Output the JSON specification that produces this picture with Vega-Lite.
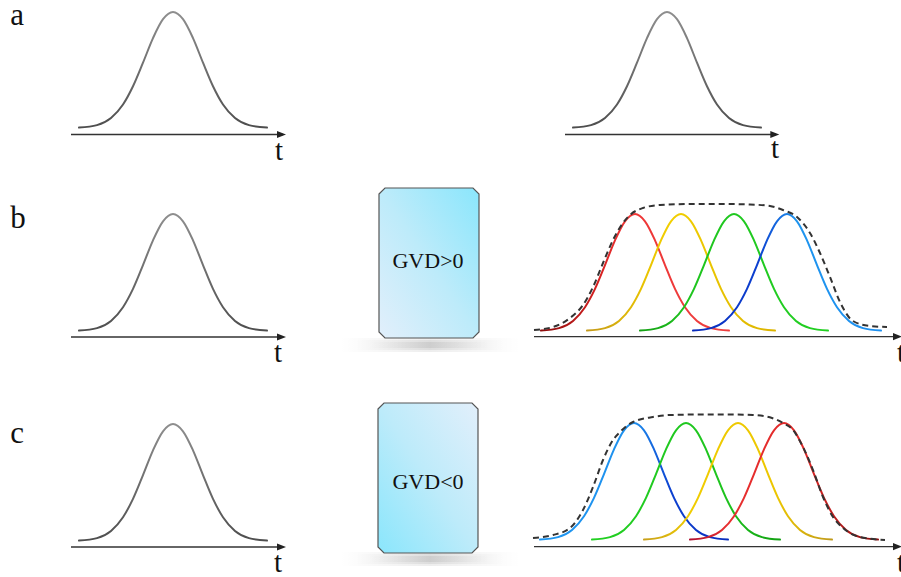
{
  "$schema": "https://vega.github.io/schema/vega-lite/v6.json",
  "width": 901,
  "height": 577,
  "autosize": {"type": "none"},
  "padding": 0,
  "background": "white",
  "config": {"view": {"stroke": null}},
  "encoding": {
    "x": {"field": "x", "type": "quantitative", "scale": {"domain": [0, 901], "nice": false, "zero": false}, "axis": null},
    "y": {"field": "y", "type": "quantitative", "scale": {"domain": [0, 577], "nice": false, "zero": false, "reverse": true}, "axis": null}
  },
  "datasets": {
    "shadows": [
      {"box": "b", "x": 340, "x2": 520, "y": 338, "y2": 352},
      {"box": "b", "x": 355, "x2": 505, "y": 340, "y2": 350},
      {"box": "b", "x": 370, "x2": 490, "y": 342, "y2": 348},
      {"box": "c", "x": 340, "x2": 520, "y": 552, "y2": 566},
      {"box": "c", "x": 355, "x2": 505, "y": 554, "y2": 564},
      {"box": "c", "x": 370, "x2": 490, "y": 556, "y2": 562}
    ],
    "boxes": [
      {"box": "b", "x": 379, "y": 194, "y2": 332},
      {"box": "b", "x": 385, "y": 188, "y2": 338},
      {"box": "b", "x": 473, "y": 188, "y2": 338},
      {"box": "b", "x": 479, "y": 194, "y2": 332},
      {"box": "c", "x": 378, "y": 409, "y2": 547},
      {"box": "c", "x": 384, "y": 403, "y2": 553},
      {"box": "c", "x": 472, "y": 403, "y2": 553},
      {"box": "c", "x": 478, "y": 409, "y2": 547}
    ],
    "gvd": [
      {"label": "GVD>0", "x": 428, "y": 268},
      {"label": "GVD<0", "x": 428, "y": 489}
    ],
    "axes": [
      {"x": 71, "x2": 283, "y": 134.5},
      {"x": 565, "x2": 776, "y": 134.5},
      {"x": 71, "x2": 283, "y": 337},
      {"x": 71, "x2": 283, "y": 547},
      {"x": 534, "x2": 899, "y": 336.7},
      {"x": 534, "x2": 899, "y": 546.7}
    ],
    "arrows": [
      {"x": 281.5, "y": 134.5},
      {"x": 774.8, "y": 134.5},
      {"x": 281.5, "y": 337},
      {"x": 281.5, "y": 547},
      {"x": 897.5, "y": 336.7},
      {"x": 897.5, "y": 546.7}
    ],
    "letters": [
      {"label": "a", "x": 17, "y": 25},
      {"label": "b", "x": 18, "y": 228},
      {"label": "c", "x": 17, "y": 443}
    ],
    "tlabels": [
      {"label": "t", "x": 279, "y": 160},
      {"label": "t", "x": 775, "y": 158},
      {"label": "t", "x": 278, "y": 362},
      {"label": "t", "x": 278, "y": 572},
      {"label": "t", "x": 901, "y": 362},
      {"label": "t", "x": 901, "y": 572}
    ],
    "env": [
      {"s": "b", "x": 534, "y": 330}, {"s": "b", "x": 553, "y": 327}, {"s": "b", "x": 570, "y": 318}, {"s": "b", "x": 583, "y": 305},
      {"s": "b", "x": 593, "y": 287}, {"s": "b", "x": 603, "y": 263}, {"s": "b", "x": 613, "y": 240}, {"s": "b", "x": 623, "y": 223},
      {"s": "b", "x": 630, "y": 215}, {"s": "b", "x": 643, "y": 208}, {"s": "b", "x": 660, "y": 205}, {"s": "b", "x": 690, "y": 204},
      {"s": "b", "x": 720, "y": 204}, {"s": "b", "x": 750, "y": 204.5}, {"s": "b", "x": 770, "y": 206}, {"s": "b", "x": 783, "y": 210},
      {"s": "b", "x": 797, "y": 217}, {"s": "b", "x": 810, "y": 233}, {"s": "b", "x": 820, "y": 253}, {"s": "b", "x": 830, "y": 277},
      {"s": "b", "x": 840, "y": 302}, {"s": "b", "x": 853, "y": 321}, {"s": "b", "x": 870, "y": 326}, {"s": "b", "x": 887, "y": 327},
      {"s": "c", "x": 533, "y": 538}, {"s": "c", "x": 553, "y": 535}, {"s": "c", "x": 570, "y": 528}, {"s": "c", "x": 583, "y": 510},
      {"s": "c", "x": 593, "y": 487}, {"s": "c", "x": 603, "y": 460}, {"s": "c", "x": 613, "y": 440}, {"s": "c", "x": 620, "y": 432},
      {"s": "c", "x": 633, "y": 422}, {"s": "c", "x": 653, "y": 417}, {"s": "c", "x": 670, "y": 415}, {"s": "c", "x": 700, "y": 414.5},
      {"s": "c", "x": 730, "y": 414.5}, {"s": "c", "x": 753, "y": 415}, {"s": "c", "x": 772, "y": 418}, {"s": "c", "x": 783, "y": 423},
      {"s": "c", "x": 793, "y": 430}, {"s": "c", "x": 803, "y": 447}, {"s": "c", "x": 813, "y": 470}, {"s": "c", "x": 823, "y": 497},
      {"s": "c", "x": 833, "y": 517}, {"s": "c", "x": 843, "y": 528}, {"s": "c", "x": 860, "y": 537}, {"s": "c", "x": 885, "y": 540}
    ],
    "pulses": [
      {"s":"aL","x":79,"y":127.6},{"s":"aL","x":97,"y":125.1},{"s":"aL","x":111,"y":118},{"s":"aL","x":123,"y":104.5},{"s":"aL","x":133,"y":86.2},{"s":"aL","x":143,"y":62.7},{"s":"aL","x":153,"y":38.1},{"s":"aL","x":163,"y":19.2},{"s":"aL","x":173,"y":12},{"s":"aL","x":183,"y":19.2},{"s":"aL","x":193,"y":38.1},{"s":"aL","x":203,"y":62.7},{"s":"aL","x":213,"y":86.2},{"s":"aL","x":223,"y":104.5},{"s":"aL","x":235,"y":118},{"s":"aL","x":249,"y":125.1},{"s":"aL","x":267,"y":127.6},
      {"s":"aR","x":573,"y":127.6},{"s":"aR","x":591,"y":125.1},{"s":"aR","x":605,"y":118},{"s":"aR","x":617,"y":104.5},{"s":"aR","x":627,"y":86.2},{"s":"aR","x":637,"y":62.7},{"s":"aR","x":647,"y":38.1},{"s":"aR","x":657,"y":19.2},{"s":"aR","x":667,"y":12},{"s":"aR","x":677,"y":19.2},{"s":"aR","x":687,"y":38.1},{"s":"aR","x":697,"y":62.7},{"s":"aR","x":707,"y":86.2},{"s":"aR","x":717,"y":104.5},{"s":"aR","x":729,"y":118},{"s":"aR","x":743,"y":125.1},{"s":"aR","x":761,"y":127.6},
      {"s":"bL","x":79,"y":330.6},{"s":"bL","x":97,"y":328.1},{"s":"bL","x":111,"y":320.9},{"s":"bL","x":123,"y":307.2},{"s":"bL","x":133,"y":288.9},{"s":"bL","x":143,"y":265.1},{"s":"bL","x":153,"y":240.3},{"s":"bL","x":163,"y":221.3},{"s":"bL","x":173,"y":214},{"s":"bL","x":183,"y":221.3},{"s":"bL","x":193,"y":240.3},{"s":"bL","x":203,"y":265.1},{"s":"bL","x":213,"y":288.9},{"s":"bL","x":223,"y":307.2},{"s":"bL","x":235,"y":320.9},{"s":"bL","x":249,"y":328.1},{"s":"bL","x":267,"y":330.6},
      {"s":"cL","x":79,"y":540.6},{"s":"cL","x":97,"y":538.1},{"s":"cL","x":111,"y":530.9},{"s":"cL","x":123,"y":517.2},{"s":"cL","x":133,"y":498.9},{"s":"cL","x":143,"y":475.1},{"s":"cL","x":153,"y":450.3},{"s":"cL","x":163,"y":431.3},{"s":"cL","x":173,"y":424},{"s":"cL","x":183,"y":431.3},{"s":"cL","x":193,"y":450.3},{"s":"cL","x":203,"y":475.1},{"s":"cL","x":213,"y":498.9},{"s":"cL","x":223,"y":517.2},{"s":"cL","x":235,"y":530.9},{"s":"cL","x":249,"y":538.1},{"s":"cL","x":267,"y":540.6},
      {"s":"bR","x":541,"y":330.6},{"s":"bR","x":559,"y":328.1},{"s":"bR","x":573,"y":320.9},{"s":"bR","x":585,"y":307.2},{"s":"bR","x":595,"y":288.9},{"s":"bR","x":605,"y":265.1},{"s":"bR","x":615,"y":240.3},{"s":"bR","x":625,"y":221.3},{"s":"bR","x":635,"y":214},{"s":"bR","x":645,"y":221.3},{"s":"bR","x":655,"y":240.3},{"s":"bR","x":665,"y":265.1},{"s":"bR","x":675,"y":288.9},{"s":"bR","x":685,"y":307.2},{"s":"bR","x":697,"y":320.9},{"s":"bR","x":711,"y":328.1},{"s":"bR","x":729,"y":330.6},
      {"s":"bY","x":587,"y":330.6},{"s":"bY","x":605,"y":328.1},{"s":"bY","x":619,"y":320.9},{"s":"bY","x":631,"y":307.2},{"s":"bY","x":641,"y":288.9},{"s":"bY","x":651,"y":265.1},{"s":"bY","x":661,"y":240.3},{"s":"bY","x":671,"y":221.3},{"s":"bY","x":681,"y":214},{"s":"bY","x":691,"y":221.3},{"s":"bY","x":701,"y":240.3},{"s":"bY","x":711,"y":265.1},{"s":"bY","x":721,"y":288.9},{"s":"bY","x":731,"y":307.2},{"s":"bY","x":743,"y":320.9},{"s":"bY","x":757,"y":328.1},{"s":"bY","x":775,"y":330.6},
      {"s":"bG","x":640,"y":330.6},{"s":"bG","x":658,"y":328.1},{"s":"bG","x":672,"y":320.9},{"s":"bG","x":684,"y":307.2},{"s":"bG","x":694,"y":288.9},{"s":"bG","x":704,"y":265.1},{"s":"bG","x":714,"y":240.3},{"s":"bG","x":724,"y":221.3},{"s":"bG","x":734,"y":214},{"s":"bG","x":744,"y":221.3},{"s":"bG","x":754,"y":240.3},{"s":"bG","x":764,"y":265.1},{"s":"bG","x":774,"y":288.9},{"s":"bG","x":784,"y":307.2},{"s":"bG","x":796,"y":320.9},{"s":"bG","x":810,"y":328.1},{"s":"bG","x":828,"y":330.6},
      {"s":"bB","x":693,"y":330.6},{"s":"bB","x":711,"y":328.1},{"s":"bB","x":725,"y":320.9},{"s":"bB","x":737,"y":307.2},{"s":"bB","x":747,"y":288.9},{"s":"bB","x":757,"y":265.1},{"s":"bB","x":767,"y":240.3},{"s":"bB","x":777,"y":221.3},{"s":"bB","x":787,"y":214},{"s":"bB","x":797,"y":221.3},{"s":"bB","x":807,"y":240.3},{"s":"bB","x":817,"y":265.1},{"s":"bB","x":827,"y":288.9},{"s":"bB","x":837,"y":307.2},{"s":"bB","x":849,"y":320.9},{"s":"bB","x":863,"y":328.1},{"s":"bB","x":881,"y":330.6},
      {"s":"cB","x":540,"y":539.6},{"s":"cB","x":558,"y":537.1},{"s":"cB","x":572,"y":529.9},{"s":"cB","x":584,"y":516.2},{"s":"cB","x":594,"y":497.9},{"s":"cB","x":604,"y":474.1},{"s":"cB","x":614,"y":449.3},{"s":"cB","x":624,"y":430.3},{"s":"cB","x":634,"y":423},{"s":"cB","x":644,"y":430.3},{"s":"cB","x":654,"y":449.3},{"s":"cB","x":664,"y":474.1},{"s":"cB","x":674,"y":497.9},{"s":"cB","x":684,"y":516.2},{"s":"cB","x":696,"y":529.9},{"s":"cB","x":710,"y":537.1},{"s":"cB","x":728,"y":539.6},
      {"s":"cG","x":592,"y":539.6},{"s":"cG","x":610,"y":537.1},{"s":"cG","x":624,"y":529.9},{"s":"cG","x":636,"y":516.2},{"s":"cG","x":646,"y":497.9},{"s":"cG","x":656,"y":474.1},{"s":"cG","x":666,"y":449.3},{"s":"cG","x":676,"y":430.3},{"s":"cG","x":686,"y":423},{"s":"cG","x":696,"y":430.3},{"s":"cG","x":706,"y":449.3},{"s":"cG","x":716,"y":474.1},{"s":"cG","x":726,"y":497.9},{"s":"cG","x":736,"y":516.2},{"s":"cG","x":748,"y":529.9},{"s":"cG","x":762,"y":537.1},{"s":"cG","x":780,"y":539.6},
      {"s":"cY","x":644,"y":539.6},{"s":"cY","x":662,"y":537.1},{"s":"cY","x":676,"y":529.9},{"s":"cY","x":688,"y":516.2},{"s":"cY","x":698,"y":497.9},{"s":"cY","x":708,"y":474.1},{"s":"cY","x":718,"y":449.3},{"s":"cY","x":728,"y":430.3},{"s":"cY","x":738,"y":423},{"s":"cY","x":748,"y":430.3},{"s":"cY","x":758,"y":449.3},{"s":"cY","x":768,"y":474.1},{"s":"cY","x":778,"y":497.9},{"s":"cY","x":788,"y":516.2},{"s":"cY","x":800,"y":529.9},{"s":"cY","x":814,"y":537.1},{"s":"cY","x":832,"y":539.6},
      {"s":"cR","x":690,"y":539.6},{"s":"cR","x":708,"y":537.1},{"s":"cR","x":722,"y":529.9},{"s":"cR","x":734,"y":516.2},{"s":"cR","x":744,"y":497.9},{"s":"cR","x":754,"y":474.1},{"s":"cR","x":764,"y":449.3},{"s":"cR","x":774,"y":430.3},{"s":"cR","x":784,"y":423},{"s":"cR","x":794,"y":430.3},{"s":"cR","x":804,"y":449.3},{"s":"cR","x":814,"y":474.1},{"s":"cR","x":824,"y":497.9},{"s":"cR","x":834,"y":516.2},{"s":"cR","x":846,"y":529.9},{"s":"cR","x":860,"y":537.1},{"s":"cR","x":878,"y":539.6}
    ]
  },
  "layer": [
    {
      "data": {"name": "shadows"},
      "mark": {"type": "rect", "fill": {"gradient": "linear", "x1": 0, "y1": 0, "x2": 1, "y2": 0, "stops": [{"offset": 0, "color": "rgba(0,0,0,0)"}, {"offset": 0.5, "color": "rgba(0,0,0,0.07)"}, {"offset": 1, "color": "rgba(0,0,0,0)"}]}},
      "encoding": {"x2": {"field": "x2"}, "y2": {"field": "y2"}}
    },
    {
      "data": {"name": "boxes"},
      "transform": [{"filter": "datum.box === 'b'"}],
      "mark": {"type": "area", "orient": "vertical", "interpolate": "linear", "stroke": "#555555", "strokeWidth": 1.2,
        "fill": {"gradient": "linear", "x1": 1, "y1": 0, "x2": 0, "y2": 1, "stops": [{"offset": 0, "color": "#8ae6fc"}, {"offset": 0.5, "color": "#bdebfa"}, {"offset": 1, "color": "#e2effb"}]}},
      "encoding": {"y2": {"field": "y2"}}
    },
    {
      "data": {"name": "boxes"},
      "transform": [{"filter": "datum.box === 'c'"}],
      "mark": {"type": "area", "orient": "vertical", "interpolate": "linear", "stroke": "#555555", "strokeWidth": 1.2,
        "fill": {"gradient": "linear", "x1": 0, "y1": 1, "x2": 1, "y2": 0, "stops": [{"offset": 0, "color": "#8ae6fc"}, {"offset": 0.5, "color": "#bdebfa"}, {"offset": 1, "color": "#e2effb"}]}},
      "encoding": {"y2": {"field": "y2"}}
    },
    {
      "data": {"name": "gvd"},
      "mark": {"type": "text", "font": "Liberation Serif", "fontSize": 22, "align": "center", "baseline": "alphabetic", "fill": "#111111"},
      "encoding": {"text": {"field": "label"}}
    },
    {
      "data": {"name": "axes"},
      "mark": {"type": "rule", "stroke": "#333333", "strokeWidth": 1.3},
      "encoding": {"x2": {"field": "x2"}}
    },
    {
      "data": {"name": "arrows"},
      "mark": {"type": "point", "shape": "M-1,-0.8L1,0L-1,0.8Z", "size": 81, "filled": true, "fill": "#222222", "strokeWidth": 0, "opacity": 1},
      "encoding": {}
    },
    {
      "data": {"name": "pulses"},
      "transform": [{"filter": "indexof(['aL','aR','bL','cL'], datum.s) >= 0"}],
      "mark": {"type": "line", "interpolate": "monotone", "strokeWidth": 2, "strokeCap": "round",
        "stroke": {"gradient": "linear", "x1": 0, "y1": 0, "x2": 0, "y2": 1, "stops": [{"offset": 0, "color": "#8e8e8e"}, {"offset": 1, "color": "#4e4e4e"}]}},
      "encoding": {"detail": {"field": "s"}}
    },
    {
      "data": {"name": "pulses"},
      "transform": [{"filter": "datum.s === 'bR'"}],
      "mark": {"type": "line", "interpolate": "monotone", "strokeWidth": 2, "strokeCap": "round",
        "stroke": {"gradient": "linear", "x1": 0, "y1": 0, "x2": 1, "y2": 0, "stops": [{"offset": 0, "color": "#8c0d0d"}, {"offset": 0.3, "color": "#d42020"}, {"offset": 0.45, "color": "#ee3535"}, {"offset": 1, "color": "#ee4040"}]}}
    },
    {
      "data": {"name": "pulses"},
      "transform": [{"filter": "datum.s === 'bY'"}],
      "mark": {"type": "line", "interpolate": "monotone", "strokeWidth": 2, "strokeCap": "round",
        "stroke": {"gradient": "linear", "x1": 0, "y1": 0, "x2": 1, "y2": 0, "stops": [{"offset": 0, "color": "#c49a1c"}, {"offset": 0.3, "color": "#e8c200"}, {"offset": 0.45, "color": "#f2cf00"}, {"offset": 1, "color": "#dcb400"}]}}
    },
    {
      "data": {"name": "pulses"},
      "transform": [{"filter": "datum.s === 'bG'"}],
      "mark": {"type": "line", "interpolate": "monotone", "strokeWidth": 2, "strokeCap": "round",
        "stroke": {"gradient": "linear", "x1": 0, "y1": 0, "x2": 1, "y2": 0, "stops": [{"offset": 0, "color": "#15a015"}, {"offset": 0.25, "color": "#1ec41e"}, {"offset": 1, "color": "#22d022"}]}}
    },
    {
      "data": {"name": "pulses"},
      "transform": [{"filter": "datum.s === 'bB'"}],
      "mark": {"type": "line", "interpolate": "monotone", "strokeWidth": 2, "strokeCap": "round",
        "stroke": {"gradient": "linear", "x1": 0, "y1": 0, "x2": 1, "y2": 0, "stops": [{"offset": 0, "color": "#0a2cbc"}, {"offset": 0.35, "color": "#0c40d0"}, {"offset": 0.55, "color": "#1e94ee"}, {"offset": 1, "color": "#1e90f0"}]}}
    },
    {
      "data": {"name": "pulses"},
      "transform": [{"filter": "datum.s === 'cB'"}],
      "mark": {"type": "line", "interpolate": "monotone", "strokeWidth": 2, "strokeCap": "round",
        "stroke": {"gradient": "linear", "x1": 0, "y1": 0, "x2": 1, "y2": 0, "stops": [{"offset": 0, "color": "#1e96f0"}, {"offset": 0.5, "color": "#1e90ee"}, {"offset": 0.7, "color": "#0c40d0"}, {"offset": 1, "color": "#0a2cbc"}]}}
    },
    {
      "data": {"name": "pulses"},
      "transform": [{"filter": "datum.s === 'cG'"}],
      "mark": {"type": "line", "interpolate": "monotone", "strokeWidth": 2, "strokeCap": "round",
        "stroke": {"gradient": "linear", "x1": 0, "y1": 0, "x2": 1, "y2": 0, "stops": [{"offset": 0, "color": "#22d022"}, {"offset": 0.7, "color": "#1ec41e"}, {"offset": 1, "color": "#12a012"}]}}
    },
    {
      "data": {"name": "pulses"},
      "transform": [{"filter": "datum.s === 'cY'"}],
      "mark": {"type": "line", "interpolate": "monotone", "strokeWidth": 2, "strokeCap": "round",
        "stroke": {"gradient": "linear", "x1": 0, "y1": 0, "x2": 1, "y2": 0, "stops": [{"offset": 0, "color": "#c8a01c"}, {"offset": 0.25, "color": "#f0cc00"}, {"offset": 0.7, "color": "#ecc600"}, {"offset": 1, "color": "#c09a1c"}]}}
    },
    {
      "data": {"name": "pulses"},
      "transform": [{"filter": "datum.s === 'cR'"}],
      "mark": {"type": "line", "interpolate": "monotone", "strokeWidth": 2, "strokeCap": "round",
        "stroke": {"gradient": "linear", "x1": 0, "y1": 0, "x2": 1, "y2": 0, "stops": [{"offset": 0, "color": "#b01030"}, {"offset": 0.2, "color": "#e83030"}, {"offset": 0.6, "color": "#e02828"}, {"offset": 1, "color": "#8c0d0d"}]}}
    },
    {
      "data": {"name": "env"},
      "mark": {"type": "line", "interpolate": "monotone", "stroke": "#333333", "strokeWidth": 2, "strokeDash": [6, 4]},
      "encoding": {"detail": {"field": "s"}}
    },
    {
      "data": {"name": "letters"},
      "mark": {"type": "text", "font": "Liberation Serif", "fontSize": 31, "align": "center", "baseline": "alphabetic", "fill": "#111111"},
      "encoding": {"text": {"field": "label"}}
    },
    {
      "data": {"name": "tlabels"},
      "mark": {"type": "text", "font": "Liberation Serif", "fontSize": 29, "align": "center", "baseline": "alphabetic", "fill": "#111111"},
      "encoding": {"text": {"field": "label"}}
    }
  ]
}
